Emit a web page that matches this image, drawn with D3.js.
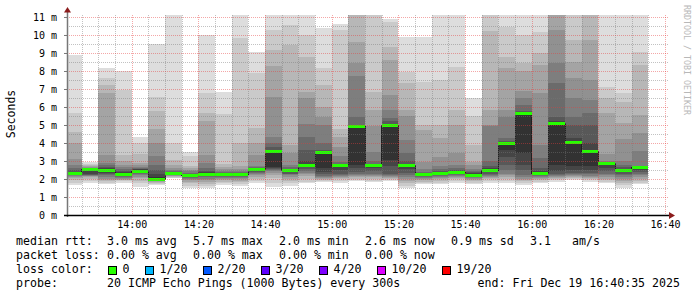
<!DOCTYPE html>
<html>
<head>
<meta charset="utf-8">
<script src="https://cdn.jsdelivr.net/npm/d3@7"></script>
<style>
  body { margin: 0; background: #fff; }
  svg { display: block; }
  text { font-family: "DejaVu Sans Mono", monospace; }
</style>
</head>
<body>
<div id="chart"></div>
<script>
// time bins (end of each 5 min probe round)
var binEnds = ["13:45","13:50","13:55","14:00","14:05","14:10","14:15","14:20","14:25","14:30",
  "14:35","14:40","14:45","14:50","14:55","15:00","15:05","15:10","15:15","15:20",
  "15:25","15:30","15:35","15:40","15:45","15:50","15:55","16:00","16:05","16:10",
  "16:15","16:20","16:25","16:30","16:35"];

// sorted ping rtts per round (ms), 20 pings each
var pings = [
  [1.65,1.8,1.95,2.05,2.1,2.15,2.2,2.25,2.28,2.3, 2.33,2.4,2.5,2.6,2.8,3.1,4.0,4.6,5.65,8.9],
  [1.78,1.9,2.0,2.1,2.15,2.18,2.2,2.22,2.25,2.5, 2.55,2.56,2.57,2.6,2.63,2.68,2.72,2.78,2.85,2.93],
  [1.7,1.8,1.9,1.95,2.0,2.1,2.2,2.3,2.35,2.45, 2.55,2.6,2.65,2.75,2.9,3.33,6.78,7.22,7.6,8.15],
  [1.79,1.87,1.93,1.97,2.0,2.05,2.1,2.15,2.2,2.25, 2.3,2.38,2.45,2.55,2.65,2.8,3.0,3.35,6.95,8.0],
  [1.57,1.75,1.9,2.05,2.13,2.2,2.3,2.35,2.4,2.45, 2.5,2.53,2.57,2.62,2.68,2.75,2.9,3.4,3.98,4.31],
  [1.65,1.72,1.8,1.83,1.87,1.9,1.92,1.95,1.97,2.0, 2.1,2.3,2.5,2.8,3.3,3.98,4.78,5.78,6.55,9.48],
  [2.04,2.07,2.1,2.14,2.17,2.2,2.22,2.25,2.28,2.3, 2.33,2.36,2.4,2.45,2.5,2.6,2.8,3.06,3.98,11.5],
  [1.48,1.6,1.75,1.85,1.92,2.0,2.08,2.13,2.17,2.2, 2.23,2.26,2.3,2.35,2.42,2.5,2.6,2.74,3.3,3.48],
  [1.48,1.6,1.7,1.85,1.95,2.0,2.1,2.15,2.2,2.26, 2.3,2.37,2.45,2.6,2.87,3.33,5.24,5.65,6.78,10.0],
  [1.65,1.75,1.85,1.92,2.0,2.05,2.1,2.15,2.2,2.24, 2.27,2.3,2.35,2.4,2.45,2.55,2.65,2.85,5.6,6.85],
  [1.62,1.72,1.82,1.9,1.98,2.05,2.1,2.15,2.2,2.24, 2.27,2.3,2.35,2.4,2.45,2.55,2.72,3.98,9.85,11.5],
  [1.78,1.9,2.0,2.1,2.2,2.28,2.35,2.4,2.45,2.5, 2.55,2.57,2.6,2.65,2.72,3.33,3.98,4.81,7.87,9.07],
  [1.57,1.8,2.04,2.2,2.35,2.45,2.5,2.55,2.6,2.65, 3.58,3.62,3.75,4.0,4.35,6.57,8.3,9.17,10.28,11.5],
  [1.6,1.75,1.9,2.0,2.1,2.2,2.25,2.3,2.38,2.45, 2.5,2.53,2.58,2.65,2.8,3.43,3.87,9.44,10.56,11.5],
  [1.75,1.85,2.0,2.15,2.25,2.35,2.45,2.55,2.65,2.75, 2.82,3.0,3.6,4.35,5.04,6.5,6.85,8.8,10.0,11.5],
  [1.83,1.9,1.95,2.0,2.05,2.1,2.15,2.25,2.4,2.6, 3.52,3.55,3.6,3.98,5.0,5.46,6.02,7.22,8.15,10.37],
  [1.8,1.9,2.0,2.05,2.1,2.15,2.2,2.3,2.5,2.7, 2.78,2.8,2.85,2.95,3.25,3.8,4.35,4.8,10.3,10.6],
  [1.9,1.95,2.0,2.1,2.15,2.2,2.3,2.4,2.6,2.75, 4.92,4.95,5.0,5.46,7.7,8.43,9.63,11.3,11.5,11.6],
  [1.85,1.9,2.0,2.1,2.15,2.2,2.3,2.45,2.6,2.7, 2.77,2.8,2.85,3.0,3.5,4.97,5.83,6.85,11.4,11.6],
  [1.9,1.95,2.0,2.05,2.1,2.15,2.2,2.3,2.72,3.06, 5.02,5.05,5.2,5.37,5.83,6.67,8.61,9.35,10.7,10.87],
  [1.48,1.6,1.75,1.9,2.0,2.1,2.2,2.35,2.55,2.7, 2.78,2.85,3.0,3.43,4.17,5.5,5.83,7.31,7.96,9.91],
  [1.7,1.78,1.85,1.95,2.0,2.05,2.1,2.15,2.2,2.25, 2.27,2.3,2.33,2.4,2.55,2.96,4.72,5.0,7.41,9.91],
  [1.7,1.8,1.9,2.0,2.05,2.1,2.15,2.2,2.25,2.3, 2.35,2.38,2.45,2.55,2.72,3.24,4.26,5.0,7.5,11.5],
  [1.8,1.9,2.0,2.05,2.1,2.15,2.2,2.25,2.3,2.37, 2.42,2.45,2.5,2.6,2.78,3.43,5.0,5.83,8.24,11.5],
  [1.7,1.8,1.9,1.95,2.0,2.05,2.1,2.15,2.2,2.24, 2.27,2.32,2.38,2.45,2.55,2.75,2.96,3.87,5.5,6.48],
  [1.8,1.9,2.0,2.05,2.1,2.15,2.2,2.3,2.4,2.45, 2.55,2.6,2.7,3.0,4.95,5.0,5.83,10.2,11.5,11.6],
  [1.8,1.9,2.0,2.1,2.2,2.3,2.5,2.78,3.24,3.6, 3.99,4.02,4.1,4.26,5.46,5.83,8.15,8.8,10.46,11.6],
  [1.67,1.8,1.9,1.95,2.0,2.1,2.2,2.5,2.78,3.43, 5.69,5.72,5.8,6.1,6.5,6.87,8.0,8.43,10.0,11.6],
  [1.75,1.85,1.95,2.0,2.05,2.1,2.15,2.2,2.25,2.3, 2.36,2.42,2.6,3.15,3.87,6.76,8.33,8.98,10.19,11.5],
  [1.85,1.95,2.0,2.05,2.1,2.15,2.2,2.3,2.45,2.75, 5.12,5.2,5.46,7.31,8.43,10.3,11.4,11.5,11.6,11.7],
  [1.94,2.0,2.05,2.1,2.15,2.2,2.25,2.35,2.5,2.7, 4.06,4.3,5.0,5.46,6.48,7.59,8.52,9.72,11.5,11.6],
  [1.85,1.95,2.0,2.05,2.1,2.15,2.25,2.35,2.5,2.72, 3.6,4.0,5.0,5.65,6.39,7.5,9.72,11.3,11.5,11.6],
  [1.76,1.85,1.95,2.0,2.1,2.2,2.3,2.45,2.6,2.8, 2.88,2.9,2.92,2.95,3.0,3.4,5.65,6.5,7.13,11.5],
  [1.48,1.65,1.8,1.9,2.0,2.1,2.2,2.3,2.4,2.45, 2.5,2.55,2.65,2.8,3.0,4.2,5.09,6.3,6.76,11.5],
  [1.7,1.8,1.9,2.0,2.1,2.2,2.3,2.4,2.5,2.6, 2.64,2.66,2.68,2.72,3.57,4.54,5.56,8.33,9.07,11.5]
];

// median rtt per round (ms)
var medians = [2.31,2.56,2.5,2.27,2.47,2.0,2.32,2.2,2.27,2.26,
  2.26,2.57,3.57,2.49,2.78,3.5,2.79,4.92,2.76,5.0,
  2.76,2.26,2.32,2.39,2.24,2.5,3.98,5.68,2.33,5.1,
  4.05,3.57,2.87,2.5,2.65];

var yTicks = [0,1,2,3,4,5,6,7,8,9,10,11];
var lossLabels = ["0","1/20","2/20","3/20","4/20","10/20","19/20"];
var lossColors = ["#26ff00","#00b8ff","#0059ff","#5e00ff","#7e00ff","#dd00ff","#ff0000"];

var rttRow = ["3.0 ms avg","5.7 ms max","2.0 ms min","2.6 ms now","0.9 ms sd","3.1","am/s"];
var lossRow = ["0.00 % avg","0.00 % max","0.00 % min","0.00 % now"];
var probeText = "20 ICMP Echo Pings (1000 Bytes) every 300s";
var endText = "end: Fri Dec 19 16:40:35 2025";

var W = 697, H = 297;
var plot = {left: 67, right: 667, top: 15, bottom: 215};

var parseT = d3.timeParse("%H:%M:%S");
var x = d3.scaleTime()
    .domain([parseT("13:40:35"), parseT("16:40:35")])
    .range([plot.left, plot.right]);
var y = d3.scaleLinear()
    .domain([0, 11.11])
    .range([plot.bottom, plot.top]);

var svg = d3.select("#chart").append("svg")
    .attr("width", W)
    .attr("height", H);

svg.append("defs").append("clipPath").attr("id", "clip")
  .append("rect")
    .attr("x", plot.left).attr("y", plot.top)
    .attr("width", plot.right - plot.left).attr("height", plot.bottom - plot.top);

var ends = binEnds.map(function(s) { return parseT(s + ":00"); });
var starts = ends.map(function(d) { return d3.timeMinute.offset(d, -5); });

// smoke: layer k spans ping k .. ping (21-k), darker toward the middle
var half = 10;
function grey(k) {
  var c = Math.floor(190 / half * (half - k)) + 50;
  return d3.rgb(c, c, c).formatHex();
}
var smoke = svg.append("g").attr("clip-path", "url(#clip)").attr("shape-rendering", "crispEdges");
for (var k = 1; k <= half; k++) {
  smoke.append("g")
    .attr("fill", grey(k))
    .selectAll("rect")
    .data(pings)
    .join("rect")
      .attr("x", function(d, i) { return x(starts[i]); })
      .attr("width", function(d, i) { return x(ends[i]) - x(starts[i]); })
      .attr("y", function(d) { return y(d[20 - k]); })
      .attr("height", function(d) { return y(d[k - 1]) - y(d[20 - k]); });
}

// median line (step) and loss-coloured band
var medPts = medians.map(function(m, i) { return [starts[i], m]; });
medPts.push([ends[ends.length - 1], medians[medians.length - 1]]);
smoke.append("path")
  .datum(medPts)
  .attr("fill", "none")
  .attr("stroke", "#202020")
  .attr("stroke-width", 1)
  .attr("d", d3.line()
    .x(function(d) { return x(d[0]); })
    .y(function(d) { return Math.round(y(d[1])) + 0.5; })
    .curve(d3.curveStepAfter));

smoke.append("g")
  .attr("fill", lossColors[0])
  .selectAll("rect")
  .data(medians)
  .join("rect")
    .attr("x", function(d, i) { return x(starts[i]); })
    .attr("width", function(d, i) { return x(ends[i]) - x(starts[i]); })
    .attr("y", function(d) { return Math.round(y(d)) - 1; })
    .attr("height", 3);

// grid on top
var grid = svg.append("g").attr("stroke-dasharray", "1,1").attr("stroke-width", 1);
var minorY = d3.range(0.5, 11.1, 1);
grid.selectAll(".hmin").data(minorY).join("line")
  .attr("x1", plot.left).attr("x2", plot.right + 2)
  .attr("y1", function(d) { return Math.round(y(d)) + 0.5; })
  .attr("y2", function(d) { return Math.round(y(d)) + 0.5; })
  .attr("stroke", "rgba(120,120,120,0.45)");
var minorX = x.ticks(d3.timeMinute.every(5)).filter(function(d) { return d.getMinutes() % 20 != 0; });
grid.selectAll(".vmin").data(minorX).join("line")
  .attr("x1", function(d) { return Math.round(x(d)) + 0.5; })
  .attr("x2", function(d) { return Math.round(x(d)) + 0.5; })
  .attr("y1", plot.top).attr("y2", plot.bottom)
  .attr("stroke", "rgba(120,120,120,0.45)");
grid.selectAll(".hmaj").data(yTicks.slice(1)).join("line")
  .attr("x1", plot.left).attr("x2", plot.right + 2)
  .attr("y1", function(d) { return Math.round(y(d)) + 0.5; })
  .attr("y2", function(d) { return Math.round(y(d)) + 0.5; })
  .attr("stroke", "rgba(230,60,60,0.45)");
var majorX = x.ticks(d3.timeMinute.every(20));
grid.selectAll(".vmaj").data(majorX).join("line")
  .attr("x1", function(d) { return Math.round(x(d)) + 0.5; })
  .attr("x2", function(d) { return Math.round(x(d)) + 0.5; })
  .attr("y1", plot.top).attr("y2", plot.bottom)
  .attr("stroke", "rgba(230,60,60,0.45)");

// axes
var yAxis = svg.append("g")
  .attr("transform", "translate(" + plot.left + ",0)")
  .call(d3.axisLeft(y).tickValues(yTicks).tickSize(3).tickPadding(7)
    .tickFormat(function(d) { return d + " m"; }));
yAxis.select(".domain").remove();
yAxis.selectAll("line").attr("stroke", "#777");
yAxis.selectAll("text").attr("font-size", 10).attr("font-family", "DejaVu Sans Mono").attr("fill", "#000");
svg.append("line")
  .attr("x1", plot.left + 0.5).attr("x2", plot.left + 0.5)
  .attr("y1", plot.bottom + 2).attr("y2", 10)
  .attr("stroke", "#777").attr("stroke-width", 1.5);

var xAxis = svg.append("g")
  .attr("transform", "translate(0," + plot.bottom + ")")
  .call(d3.axisBottom(x).ticks(d3.timeMinute.every(20)).tickSize(0).tickPadding(6)
    .tickFormat(d3.timeFormat("%H:%M")));
xAxis.select(".domain").remove();
xAxis.selectAll("text").attr("font-size", 10).attr("font-family", "DejaVu Sans Mono").attr("fill", "#000");
svg.append("line")
  .attr("x1", plot.left - 3).attr("x2", plot.right + 4)
  .attr("y1", plot.bottom + 0.5).attr("y2", plot.bottom + 0.5)
  .attr("stroke", "#000").attr("stroke-width", 1.5);

// arrows
svg.append("path").attr("fill", "#8b1c1c")
  .attr("d", "M" + (plot.left - 3) + ",12.5 L" + (plot.left + 4) + ",12.5 L" + (plot.left + 0.5) + ",7 Z");
svg.append("path").attr("fill", "#8b1c1c")
  .attr("d", "M" + (plot.right + 2) + "," + (plot.bottom - 3) + " L" + (plot.right + 2) + "," + (plot.bottom + 4) + " L" + (plot.right + 8) + "," + (plot.bottom + 0.5) + " Z");

// labels
svg.append("text")
  .attr("transform", "translate(15,114) rotate(-90)")
  .attr("text-anchor", "middle")
  .attr("font-size", 11.5)
  .text("Seconds");
svg.append("text")
  .attr("transform", "translate(684,5) rotate(90)")
  .attr("font-size", 8.3)
  .attr("fill", "#b8b8b8")
  .text("RRDTOOL / TOBI OETIKER");

// legend
var legend = svg.append("g").attr("font-size", 11.6).attr("fill", "#000").style("white-space", "pre");
var rowY = [245, 259, 273, 287];
var colX = [107, 193, 279, 365, 451, 530, 572];
legend.append("text").attr("x", 16).attr("y", rowY[0]).text("median rtt:");
legend.selectAll(".rtt").data(rttRow).join("text")
  .attr("x", function(d, i) { return colX[i]; }).attr("y", rowY[0]).text(function(d) { return d; });
legend.append("text").attr("x", 16).attr("y", rowY[1]).text("packet loss:");
legend.selectAll(".loss").data(lossRow).join("text")
  .attr("x", function(d, i) { return colX[i]; }).attr("y", rowY[1]).text(function(d) { return d; });
legend.append("text").attr("x", 16).attr("y", rowY[2]).text("loss color:");
var bx = 108;
lossLabels.forEach(function(lab, i) {
  legend.append("rect")
    .attr("x", bx + 0.5).attr("y", 266.5).attr("width", 8).attr("height", 8)
    .attr("fill", lossColors[i]).attr("stroke", "#000").attr("stroke-width", 1);
  legend.append("text").attr("x", bx + 14.5).attr("y", rowY[2]).text(lab);
  bx = bx + 14.5 + lab.length * 7 + 15.5;
});
legend.append("text").attr("x", 16).attr("y", rowY[3]).text("probe:");
legend.append("text").attr("x", 107).attr("y", rowY[3]).text(probeText);
legend.append("text").attr("x", 680).attr("y", rowY[3]).attr("text-anchor", "end").text(endText);
</script>
</body>
</html>
